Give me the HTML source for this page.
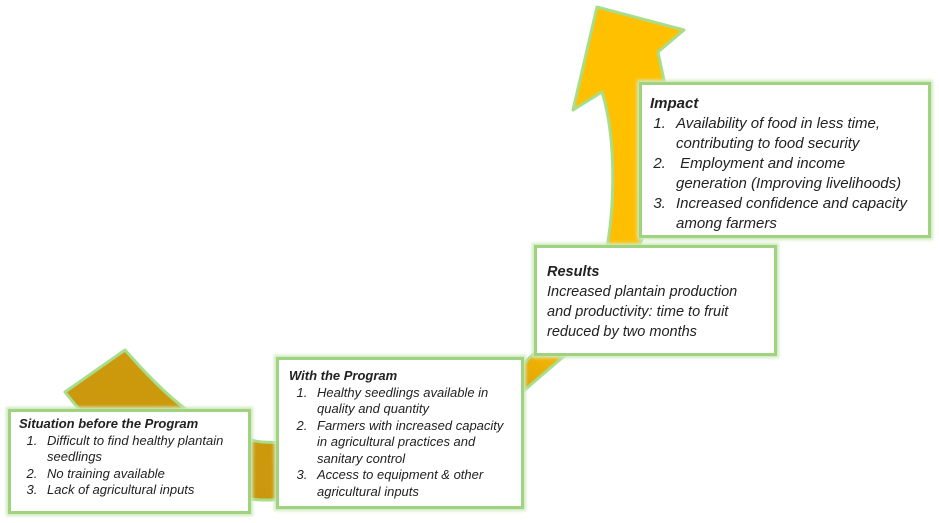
<!DOCTYPE html>
<html><head><style>
body{margin:0;width:939px;height:523px;background:#fff;position:relative;overflow:hidden;font-family:"Liberation Sans",sans-serif;font-style:italic;color:#222}
.b{position:absolute;background:#fff;border:3px solid #9fd37f;box-shadow:0 0 3px 2px #cfeac0;box-sizing:border-box}
.t{font-weight:bold}
ol{margin:0;padding-left:30px}
li{padding-left:6px}
</style></head><body>
<svg width="939" height="523" style="position:absolute;left:0;top:0">
<defs><linearGradient id="g" x1="0" y1="1" x2="0.6" y2="0">
<stop offset="0" stop-color="#c8960e"/><stop offset="0.45" stop-color="#d29c0b"/><stop offset="0.6" stop-color="#ffbd00"/><stop offset="1" stop-color="#ffc000"/></linearGradient></defs>
<path d="M65,392 L125,350 C165,395 205,435 262,442 C380,448 470,420 525,362 C565,325 600,285 608,242 C616,190 614,130 602,92 L573,110 L597,7 L684,30 L658,52 L665,85 C665,220 620,310 575,347 C545,372 530,385 500,412 C420,482 350,500 262,500 C170,495 110,450 65,392 Z" fill="url(#g)" stroke="#a8dd8c" stroke-width="3" stroke-linejoin="round"/>
</svg>
<div class="b" style="left:8px;top:409px;width:243px;height:105px;padding:4px 8px;font-size:13px;line-height:16.5px">
<div class="t">Situation before the Program</div>
<ol style="padding-left:22px"><li>Difficult to find healthy plantain seedlings</li><li>No training available</li><li>Lack of agricultural inputs</li></ol></div>
<div class="b" style="left:276px;top:357px;width:248px;height:152px;padding:8px 10px;font-size:13px;line-height:16.5px">
<div class="t">With the Program</div>
<ol style="padding-left:22px"><li>Healthy seedlings available in quality and quantity</li><li>Farmers with increased capacity in agricultural practices and sanitary control</li><li>Access to equipment &amp; other agricultural inputs</li></ol></div>
<div class="b" style="left:534px;top:245px;width:243px;height:111px;padding:14px 10px;font-size:14.5px;line-height:20px">
<div class="t">Results</div>
<div>Increased plantain production and productivity: time to fruit reduced by two months</div></div>
<div class="b" style="left:639px;top:82px;width:292px;height:156px;padding:9px 8px;font-size:15px;line-height:20px">
<div class="t">Impact</div>
<ol style="padding-left:20px;width:250px"><li>Availability of food in less time, contributing to food security</li><li>&nbsp;Employment and income generation (Improving livelihoods)</li><li>Increased confidence and capacity among farmers</li></ol></div>
</body></html>
